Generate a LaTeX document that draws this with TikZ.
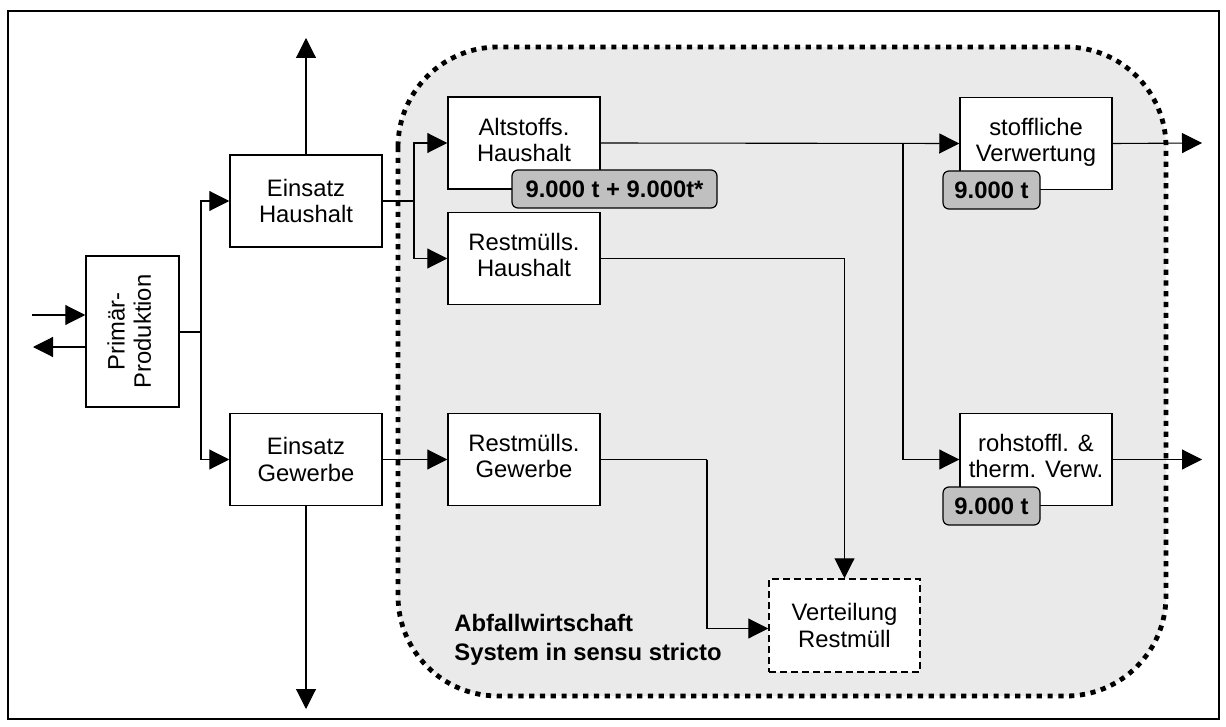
\documentclass[tikz,border=0pt]{standalone}
\usepackage{fontspec}
\setmainfont{Liberation Sans}
\usetikzlibrary{arrows.meta}
\definecolor{zonegray}{HTML}{EAEAEA}
\definecolor{taggray}{HTML}{C0C0C0}
\newcommand{\boxfont}{\fontsize{11.9}{13.2}\selectfont}

\begin{document}
\begin{tikzpicture}[x=0.5pt, y=-0.5pt,
        box/.style={draw, line width=0.75pt, fill=white, minimum width=76pt,
            minimum height=46pt, align=center, inner sep=2pt, font=\boxfont},
        tag/.style={draw, line width=0.6pt, fill=taggray, rounded corners=3pt,
            minimum height=19pt, inner sep=2pt, font=\boxfont\bfseries},
        arr/.style={-{Triangle[length=10pt,width=10pt]}, line width=0.55pt},
        flow/.style={line width=0.55pt}]
    \useasboundingbox (0,0) rectangle (1226,727);
    \draw[line width=1pt] (8,11) rectangle (1219,719);

    % system border
    \draw[line width=2.4pt, dash pattern=on 2.6pt off 2.8pt, fill=zonegray,
        rounded corners=50pt] (398,47) rectangle (1166,696);
    \node[anchor=west, align=left, inner sep=0pt, font=\boxfont\bfseries] (sys) at (454,640)
        {Abfallwirtschaft\\[1pt]System in sensu stricto};

    % boxes
    \node[box, minimum width=46.5pt, minimum height=75.5pt] (prim) at (132.5,331.5)
        {\rotatebox{90}{\begin{tabular}{@{}c@{}}Primär-\\Produktion\end{tabular}}};
    \node[box] (eh) at (306,201) {Einsatz\\Haushalt};
    \node[box] (eg) at (306,459.5) {Einsatz\\Gewerbe};
    \node[box] (alt) at (524,143) {\raisebox{3pt}{\begin{tabular}{@{}c@{}}Altstoffs.\\Haushalt\end{tabular}}};
    \node[box] (rh) at (524,258.5) {\raisebox{3pt}{\begin{tabular}{@{}c@{}}Restmülls.\\Haushalt\end{tabular}}};
    \node[box] (rg) at (524,459.5) {\raisebox{3pt}{\begin{tabular}{@{}c@{}}Restmülls.\\Gewerbe\end{tabular}}};
    \node[box] (sv) at (1036,143.5) {\raisebox{5pt}{\begin{tabular}{@{}c@{}}stoffliche\\Verwertung\end{tabular}}};
    \node[box] (rv) at (1036,459.5) {\raisebox{3pt}{\begin{tabular}{@{}c@{}}rohstoffl. \&\\therm. Verw.\end{tabular}}};
    \node[box, dashed, dash pattern=on 3.5pt off 2pt, minimum width=75.5pt,
        minimum height=46.5pt] (vr) at (844.5,625.5) {Verteilung\\Restmüll};

    % free ends and bends
    \coordinate (inP) at (32,315);
    \coordinate (outP) at (33,347);
    \coordinate (s1) at (201,332);
    \coordinate (upH) at (306,38);
    \coordinate (downG) at (306,709);
    \coordinate (s2) at (414,201);
    \coordinate (s3) at (903,143);
    \coordinate (k1) at (707,459.5);
    \coordinate (outS) at (1202,143);
    \coordinate (outR) at (1202,459.5);

    % flows
    \draw[arr] (inP) -- (inP -| prim.west);
    \draw[arr] (prim.west |- outP) -- (outP);
    \draw[flow] (prim.east |- s1) -- (s1);
    \draw[arr] (s1) |- (eh.west);
    \draw[arr] (s1) |- (eg.west);
    \draw[arr] (eh.north) -- (upH);
    \draw[arr] (eg.south) -- (downG);
    \draw[flow] (eh.east) -- (s2);
    \draw[arr] (s2) |- (alt.west);
    \draw[arr] (s2) |- (rh.west);
    \draw[arr] (eg.east) -- (rg.west);
    \draw[arr] (alt.east) -- (sv.west);
    \draw[arr] (s3) |- (rv.west);
    \draw[arr] (sv.east) -- (outS);
    \draw[arr] (rv.east) -- (outR);
    \draw[arr] (rh.east) -| (vr.north);
    \draw[flow] (rg.east) -- (k1);
    \draw[arr] (k1) |- ([yshift=-1.5pt]vr.west);

    % amounts
    \node[tag, minimum width=102.5pt] (tA) at (614.5,189) {9.000 t + 9.000t*};
    \node[tag, minimum width=48.5pt] (tS) at (991.5,190) {9.000 t};
    \node[tag, minimum width=48.5pt] (tR) at (991.5,506) {9.000 t};
\end{tikzpicture}
\end{document}
